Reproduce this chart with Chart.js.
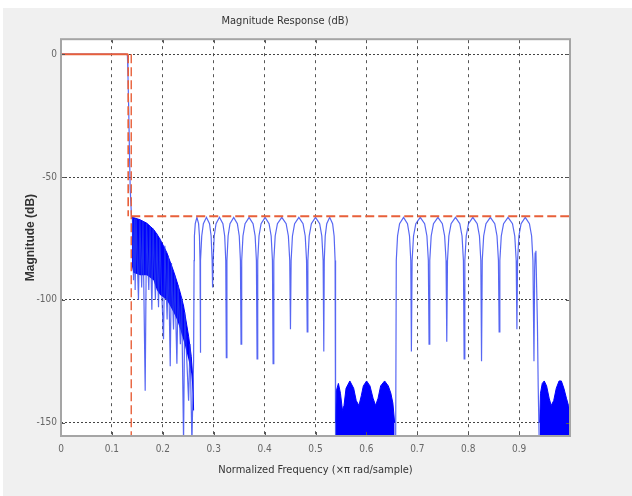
<!DOCTYPE html>
<html>
<head>
<meta charset="utf-8">
<script src="https://cdn.jsdelivr.net/npm/chart.js@4"></script>
<style>
  html, body { margin: 0; padding: 0; background: #fff; }
  #panel { position: absolute; left: 3px; top: 8px; width: 629px; height: 488px; background: #f0f0f0; }
  #chart { position: absolute; left: 0; top: 0; }
</style>
</head>
<body>
<div id="panel"></div>
<canvas id="chart" width="632" height="496"></canvas>
<script>
// ---- data ----
const xTicks = [0, 0.1, 0.2, 0.3, 0.4, 0.5, 0.6, 0.7, 0.8, 0.9];
const xTickLabels = ["0", "0.1", "0.2", "0.3", "0.4", "0.5", "0.6", "0.7", "0.8", "0.9"];
const yTicks = [-150, -100, -50, 0];
const yTickLabels = ["-150", "-100", "-50", "0"];

// magnitude response (blue line)
const respX = [
  0, 0.128, 0.1305, 0.1315, 0.133, 0.1345, 0.136, 0.1385,
  0.1405, 0.1425, 0.1445, 0.1457, 0.1475, 0.1522, 0.155, 0.1585, 0.161, 0.1654, 0.168, 0.1725,
  0.175, 0.1785, 0.181, 0.1855, 0.188, 0.1916, 0.194, 0.2014, 0.204, 0.2085, 0.211, 0.2146,
  0.217, 0.2211, 0.2235, 0.2277, 0.230, 0.2345, 0.237, 0.2408, 0.243, 0.2507, 0.2535, 0.2572,
  0.2605, 0.2615, 0.2621, 0.2638, 0.267, 0.2703, 0.272, 0.2731, 0.2736,
  0.2746, 0.2765, 0.2797, 0.2857, 0.2918, 0.2949, 0.2969, 0.2978,
  0.2989, 0.301, 0.3046, 0.3113, 0.3181, 0.3216, 0.3237, 0.3248,
  0.326, 0.3283, 0.332, 0.3393, 0.3465, 0.3502, 0.3525, 0.3537,
  0.355, 0.3575, 0.3616, 0.3695, 0.3773, 0.3814, 0.3839, 0.3852,
  0.3865, 0.389, 0.3931, 0.401, 0.4088, 0.4129, 0.4154, 0.4167,
  0.4181, 0.4208, 0.4252, 0.4338, 0.4423, 0.4467, 0.4494, 0.4508,
  0.4521, 0.4547, 0.459, 0.4673, 0.4755, 0.4798, 0.4824, 0.4837,
  0.485, 0.4876, 0.4919, 0.5, 0.5082, 0.5124, 0.515, 0.5163,
  0.5172, 0.5191, 0.5221, 0.5279, 0.5336, 0.5366, 0.5385, 0.5394,
  0.6575,
  0.6587, 0.6612, 0.6652, 0.673, 0.6807, 0.6847, 0.6872, 0.6884,
  0.6898, 0.6926, 0.6971, 0.7058, 0.7144, 0.7189, 0.7217, 0.7231,
  0.7245, 0.7273, 0.7318, 0.7405, 0.7492, 0.7537, 0.7565, 0.7579,
  0.7593, 0.762, 0.7664, 0.775, 0.7835, 0.7879, 0.7906, 0.792,
  0.7934, 0.7961, 0.8006, 0.8091, 0.8177, 0.8221, 0.8248, 0.8262,
  0.8276, 0.8304, 0.8349, 0.8435, 0.8522, 0.8566, 0.8594, 0.8608,
  0.8622, 0.865, 0.8695, 0.8783, 0.887, 0.8915, 0.8943, 0.8957,
  0.897, 0.8996, 0.9039, 0.9121, 0.9203, 0.9246, 0.9272,
  0.9292, 0.9305, 0.9315, 0.933, 0.9345, 0.936, 0.9375, 0.9395, 1.0
];
const respY = [
  0, 0, -0.5, -8, -22, -40, -55, -66,
  -67, -92, -67, -96, -67, -100, -67.5, -95, -68, -137, -69, -96,
  -70, -104, -71, -100, -73, -103, -75, -116, -78, -108, -82, -127,
  -85, -112, -90, -126, -94, -118, -99, -158, -105, -141, -118, -158,
  -125, -84, -74, -69, -66.4, -69, -74, -84, -121.5,
  -84, -74, -69, -66.4, -69, -74, -84, -95,
  -84, -74, -69, -66.4, -69, -74, -84, -123.5,
  -84, -74, -69, -66.4, -69, -74, -84, -118,
  -84, -74, -69, -66.4, -69, -74, -84, -124,
  -84, -74, -69, -66.4, -69, -74, -84, -126,
  -84, -74, -69, -66.4, -69, -74, -84, -112,
  -84, -74, -69, -66.4, -69, -74, -84, -113,
  -84, -74, -69, -66.4, -69, -74, -84, -121,
  -84, -74, -69, -66.4, -69, -74, -84, -158,
  -158,
  -84, -74, -69, -66.4, -69, -74, -84, -121,
  -84, -74, -69, -66.4, -69, -74, -84, -118,
  -84, -74, -69, -66.4, -69, -74, -84, -117,
  -84, -74, -69, -66.4, -69, -74, -84, -124,
  -84, -74, -69, -66.4, -69, -74, -84, -125,
  -84, -74, -69, -66.4, -69, -74, -84, -113,
  -84, -74, -69, -66.4, -69, -74, -84, -112,
  -84, -74, -69, -66.4, -69, -74, -84,
  -125, -88, -81, -80, -95, -110, -135, -158, -158
];

// dense ripple zone just past the transition band (upper / lower edge of the solid core)
const band1X = [0.139, 0.142, 0.1555, 0.1686, 0.1818, 0.1883, 0.1949, 0.208, 0.2211, 0.2277, 0.2343, 0.2408, 0.2441, 0.2507, 0.2559, 0.2592, 0.2605];
const band1Top = [-66.4, -66.5, -67.4, -68.8, -71.3, -73.2, -75.4, -80.8, -88.3, -92.5, -97.1, -102.5, -106.6, -114.8, -123, -132.5, -145];
const band1Low = [-86, -89, -90, -90, -92, -96, -98, -100, -105, -108, -112, -116.5, -119, -124.6, -130, -138, -146];

// dense zone 0.54 - 0.66 (top edge)
const band3X = [0.5394, 0.541, 0.545, 0.549, 0.553, 0.556, 0.560, 0.5675, 0.575, 0.580, 0.5853, 0.590, 0.594, 0.6004, 0.607, 0.613, 0.6181, 0.623, 0.628, 0.6358, 0.643, 0.648, 0.652, 0.6555];
const band3Top = [-150, -137, -134, -138, -145, -143, -136, -133, -136, -141, -143, -139, -135, -133, -135, -140, -143, -140, -135, -133, -135, -138, -142, -150];

// dense zone 0.94 - 1 (top edge)
const band5X = [0.9405, 0.942, 0.9455, 0.9494, 0.954, 0.959, 0.963, 0.968, 0.973, 0.9785, 0.983, 0.988, 0.993, 0.997, 1.0];
const band5Top = [-150, -138, -134, -133, -135, -140, -143, -141, -136, -133, -133, -136, -140, -143, -145];

// mask (red)
const passX = [0, 0.132];
const passY = [0, 0];
const fpassX = [0.132, 0.132];
const fpassY = [0, -66];
const fstopX = [0.138, 0.138];
const fstopY = [0, -158];
const stopX = [0.138, 1.0];
const stopY = [-66, -66];

const Y_MIN = -155.4;
const Y_MAX = 6.1;

// ---- helpers ----
const pts = (xs, ys) => xs.map((x, i) => ({ x: x, y: ys[i] }));
const NARROW = '"Liberation Sans Narrow", "Arial Narrow", "DejaVu Sans Condensed", "Liberation Sans", sans-serif';
const RED = '#e8603a';
const BLUE = '#0000ff';

// white plot area + frame + inner tick marks
const framePlugin = {
  id: 'frame',
  beforeDraw(chart) {
    const a = chart.chartArea, ctx = chart.ctx;
    ctx.save();
    ctx.fillStyle = '#ffffff';
    ctx.fillRect(a.left, a.top, a.right - a.left, a.bottom - a.top);
    ctx.restore();
  },
  afterDraw(chart) {
    const a = chart.chartArea, ctx = chart.ctx;
    const xs = chart.scales.x, ys = chart.scales.y;
    ctx.save();
    ctx.strokeStyle = '#555';
    ctx.lineWidth = 1;
    ctx.beginPath();
    xTicks.forEach(v => {
      const px = Math.round(xs.getPixelForValue(v)) + 0.5;
      ctx.moveTo(px, a.top); ctx.lineTo(px, a.top + 4);
      ctx.moveTo(px, a.bottom); ctx.lineTo(px, a.bottom - 4);
    });
    yTicks.forEach(v => {
      const py = Math.round(ys.getPixelForValue(v)) + 0.5;
      ctx.moveTo(a.left, py); ctx.lineTo(a.left + 4, py);
      ctx.moveTo(a.right, py); ctx.lineTo(a.right - 4, py);
    });
    ctx.stroke();
    ctx.strokeStyle = '#a5a5a5';
    ctx.lineWidth = 2;
    ctx.strokeRect(a.left, a.top, a.right - a.left, a.bottom - a.top);
    ctx.restore();
  }
};

const ctx = document.getElementById('chart').getContext('2d');
new Chart(ctx, {
  type: 'line',
  data: {
    datasets: [
      { data: pts(passX, passY), borderColor: RED, borderWidth: 2 },
      { data: pts(fpassX, fpassY), borderColor: RED, borderWidth: 1.6, borderDash: [9, 4] },
      { data: pts(fstopX, fstopY), borderColor: RED, borderWidth: 1.4, borderDash: [9, 4] },
      { data: pts(stopX, stopY), borderColor: RED, borderWidth: 2, borderDash: [9, 4] },
      { data: pts(respX, respY), borderColor: 'rgba(40,60,240,0.78)', borderWidth: 1.2 },
      { data: pts(band1X, band1Top), borderColor: BLUE, borderWidth: 1, backgroundColor: BLUE, fill: '+1' },
      { data: pts(band1X, band1Low), borderColor: 'rgba(0,0,0,0)', borderWidth: 0, fill: false },
      { data: pts(band3X, band3Top), borderColor: BLUE, borderWidth: 1, backgroundColor: BLUE, fill: { value: -160 } },
      { data: pts(band5X, band5Top), borderColor: BLUE, borderWidth: 1, backgroundColor: BLUE, fill: { value: -160 } }
    ]
  },
  options: {
    responsive: false,
    animation: false,
    devicePixelRatio: 1,
    events: [],
    elements: { point: { radius: 0 }, line: { tension: 0 } },
    layout: { padding: { left: 0, right: 62, top: 0, bottom: 0 } },
    plugins: {
      legend: { display: false },
      tooltip: { enabled: false },
      title: {
        display: true,
        text: 'Magnitude Response (dB)',
        color: '#333',
        font: { family: NARROW, size: 11, weight: 'normal' },
        padding: { top: 15, bottom: 11 }
      }
    },
    scales: {
      x: {
        type: 'linear',
        min: 0,
        max: 1,
        afterBuildTicks: s => { s.ticks = xTicks.map(v => ({ value: v })); },
        afterFit: s => { s.height = 60; },
        ticks: {
          callback: (v, i) => xTickLabels[i],
          color: '#666',
          font: { family: NARROW, size: 10 },
          padding: 7,
          maxRotation: 0,
          autoSkip: false
        },
        grid: { color: '#555', lineWidth: 1, drawTicks: false },
        border: { display: false, dash: [3, 4] },
        title: {
          display: true,
          text: 'Normalized Frequency (\u00d7\u03c0 rad/sample)',
          color: '#333',
          font: { family: NARROW, size: 11 },
          padding: { top: 0, bottom: 19 }
        }
      },
      y: {
        type: 'linear',
        min: Y_MIN,
        max: Y_MAX,
        afterBuildTicks: s => { s.ticks = yTicks.map(v => ({ value: v })); },
        afterFit: s => { s.width = 61; },
        ticks: {
          callback: (v, i) => yTickLabels[i],
          color: '#666',
          font: { family: NARROW, size: 10 },
          padding: 4,
          autoSkip: false
        },
        grid: { color: '#444', lineWidth: 1, drawTicks: false },
        border: { display: false, dash: [2, 2] },
        title: {
          display: true,
          text: 'Magnitude (dB)',
          color: '#333',
          font: { family: '"Liberation Sans", Arial, sans-serif', size: 12, weight: 'bold' },
          padding: { top: 23, bottom: 0 }
        }
      }
    }
  },
  plugins: [framePlugin]
});
</script>
</body>
</html>
